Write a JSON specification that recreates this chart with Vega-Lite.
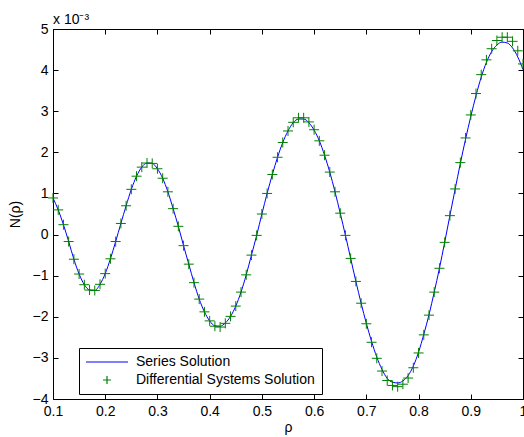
{
  "$schema": "https://vega.github.io/schema/vega-lite/v6.json",
  "width": 470,
  "height": 370,
  "autosize": {"type": "none"},
  "padding": {"left": 53, "top": 29, "right": 1, "bottom": 38},
  "background": "white",
  "title": {"text": "x 10⁻³", "anchor": "start", "frame": "group", "fontSize": 14, "fontWeight": "normal", "font": "Liberation Sans", "color": "black", "offset": -5},
  "datasets": {
    "markers": [
      {"rho": 0.10, "N": 0.89}, {"rho": 0.11, "N": 0.60}, {"rho": 0.12, "N": 0.24}, {"rho": 0.13, "N": -0.17}, {"rho": 0.14, "N": -0.60},
      {"rho": 0.15, "N": -0.96}, {"rho": 0.16, "N": -1.22}, {"rho": 0.17, "N": -1.35}, {"rho": 0.18, "N": -1.36}, {"rho": 0.19, "N": -1.21},
      {"rho": 0.20, "N": -0.95}, {"rho": 0.21, "N": -0.59}, {"rho": 0.22, "N": -0.17}, {"rho": 0.23, "N": 0.27}, {"rho": 0.24, "N": 0.70},
      {"rho": 0.25, "N": 1.10}, {"rho": 0.26, "N": 1.42}, {"rho": 0.27, "N": 1.64}, {"rho": 0.28, "N": 1.74}, {"rho": 0.29, "N": 1.73},
      {"rho": 0.30, "N": 1.60}, {"rho": 0.31, "N": 1.37}, {"rho": 0.32, "N": 1.04}, {"rho": 0.33, "N": 0.63}, {"rho": 0.34, "N": 0.20},
      {"rho": 0.35, "N": -0.27}, {"rho": 0.36, "N": -0.72}, {"rho": 0.37, "N": -1.17}, {"rho": 0.38, "N": -1.57}, {"rho": 0.39, "N": -1.88},
      {"rho": 0.40, "N": -2.10}, {"rho": 0.41, "N": -2.23}, {"rho": 0.42, "N": -2.25}, {"rho": 0.43, "N": -2.16}, {"rho": 0.44, "N": -1.99},
      {"rho": 0.45, "N": -1.74}, {"rho": 0.46, "N": -1.40}, {"rho": 0.47, "N": -0.98}, {"rho": 0.48, "N": -0.50}, {"rho": 0.49, "N": -0.02},
      {"rho": 0.50, "N": 0.50}, {"rho": 0.51, "N": 1.00}, {"rho": 0.52, "N": 1.46}, {"rho": 0.53, "N": 1.88}, {"rho": 0.54, "N": 2.24},
      {"rho": 0.55, "N": 2.52}, {"rho": 0.56, "N": 2.73}, {"rho": 0.57, "N": 2.84}, {"rho": 0.58, "N": 2.84}, {"rho": 0.59, "N": 2.74},
      {"rho": 0.60, "N": 2.55}, {"rho": 0.61, "N": 2.28}, {"rho": 0.62, "N": 1.93}, {"rho": 0.63, "N": 1.52}, {"rho": 0.64, "N": 1.04},
      {"rho": 0.65, "N": 0.52}, {"rho": 0.66, "N": -0.02}, {"rho": 0.67, "N": -0.58}, {"rho": 0.68, "N": -1.14}, {"rho": 0.69, "N": -1.67},
      {"rho": 0.70, "N": -2.17}, {"rho": 0.71, "N": -2.62}, {"rho": 0.72, "N": -3.01}, {"rho": 0.73, "N": -3.32}, {"rho": 0.74, "N": -3.55},
      {"rho": 0.75, "N": -3.67}, {"rho": 0.76, "N": -3.70}, {"rho": 0.77, "N": -3.64}, {"rho": 0.78, "N": -3.49}, {"rho": 0.79, "N": -3.24},
      {"rho": 0.80, "N": -2.88}, {"rho": 0.81, "N": -2.44}, {"rho": 0.82, "N": -1.96}, {"rho": 0.83, "N": -1.40}, {"rho": 0.84, "N": -0.82},
      {"rho": 0.85, "N": -0.19}, {"rho": 0.86, "N": 0.46}, {"rho": 0.87, "N": 1.11}, {"rho": 0.88, "N": 1.75}, {"rho": 0.89, "N": 2.35},
      {"rho": 0.90, "N": 2.91}, {"rho": 0.91, "N": 3.43}, {"rho": 0.92, "N": 3.89}, {"rho": 0.93, "N": 4.25}, {"rho": 0.94, "N": 4.52},
      {"rho": 0.95, "N": 4.72}, {"rho": 0.96, "N": 4.80}, {"rho": 0.97, "N": 4.80}, {"rho": 0.98, "N": 4.70}, {"rho": 0.99, "N": 4.47},
      {"rho": 1.00, "N": 4.15}
    ],
    "series": [
      {"rho": 0.10, "N": 0.89}, {"rho": 0.11, "N": 0.60}, {"rho": 0.12, "N": 0.24}, {"rho": 0.13, "N": -0.17}, {"rho": 0.14, "N": -0.60},
      {"rho": 0.15, "N": -0.96}, {"rho": 0.16, "N": -1.22}, {"rho": 0.17, "N": -1.35}, {"rho": 0.18, "N": -1.36}, {"rho": 0.19, "N": -1.21},
      {"rho": 0.20, "N": -0.95}, {"rho": 0.21, "N": -0.59}, {"rho": 0.22, "N": -0.17}, {"rho": 0.23, "N": 0.27}, {"rho": 0.24, "N": 0.70},
      {"rho": 0.25, "N": 1.10}, {"rho": 0.26, "N": 1.42}, {"rho": 0.27, "N": 1.64}, {"rho": 0.28, "N": 1.74}, {"rho": 0.29, "N": 1.73},
      {"rho": 0.30, "N": 1.60}, {"rho": 0.31, "N": 1.37}, {"rho": 0.32, "N": 1.04}, {"rho": 0.33, "N": 0.63}, {"rho": 0.34, "N": 0.20},
      {"rho": 0.35, "N": -0.27}, {"rho": 0.36, "N": -0.72}, {"rho": 0.37, "N": -1.17}, {"rho": 0.38, "N": -1.57}, {"rho": 0.39, "N": -1.88},
      {"rho": 0.40, "N": -2.10}, {"rho": 0.41, "N": -2.22}, {"rho": 0.42, "N": -2.23}, {"rho": 0.43, "N": -2.15}, {"rho": 0.44, "N": -1.99},
      {"rho": 0.45, "N": -1.74}, {"rho": 0.46, "N": -1.40}, {"rho": 0.47, "N": -0.98}, {"rho": 0.48, "N": -0.50}, {"rho": 0.49, "N": -0.02},
      {"rho": 0.50, "N": 0.50}, {"rho": 0.51, "N": 1.00}, {"rho": 0.52, "N": 1.46}, {"rho": 0.53, "N": 1.88}, {"rho": 0.54, "N": 2.24},
      {"rho": 0.55, "N": 2.52}, {"rho": 0.56, "N": 2.72}, {"rho": 0.57, "N": 2.81}, {"rho": 0.58, "N": 2.81}, {"rho": 0.59, "N": 2.72},
      {"rho": 0.60, "N": 2.54}, {"rho": 0.61, "N": 2.28}, {"rho": 0.62, "N": 1.93}, {"rho": 0.63, "N": 1.52}, {"rho": 0.64, "N": 1.04},
      {"rho": 0.65, "N": 0.52}, {"rho": 0.66, "N": -0.02}, {"rho": 0.67, "N": -0.58}, {"rho": 0.68, "N": -1.14}, {"rho": 0.69, "N": -1.67},
      {"rho": 0.70, "N": -2.16}, {"rho": 0.71, "N": -2.60}, {"rho": 0.72, "N": -2.98}, {"rho": 0.73, "N": -3.28}, {"rho": 0.74, "N": -3.50},
      {"rho": 0.75, "N": -3.59}, {"rho": 0.76, "N": -3.61}, {"rho": 0.77, "N": -3.56}, {"rho": 0.78, "N": -3.43}, {"rho": 0.79, "N": -3.20},
      {"rho": 0.80, "N": -2.86}, {"rho": 0.81, "N": -2.43}, {"rho": 0.82, "N": -1.95}, {"rho": 0.83, "N": -1.40}, {"rho": 0.84, "N": -0.82},
      {"rho": 0.85, "N": -0.19}, {"rho": 0.86, "N": 0.46}, {"rho": 0.87, "N": 1.10}, {"rho": 0.88, "N": 1.73}, {"rho": 0.89, "N": 2.32},
      {"rho": 0.90, "N": 2.87}, {"rho": 0.91, "N": 3.38}, {"rho": 0.92, "N": 3.83}, {"rho": 0.93, "N": 4.19}, {"rho": 0.94, "N": 4.45},
      {"rho": 0.95, "N": 4.61}, {"rho": 0.96, "N": 4.68}, {"rho": 0.97, "N": 4.66}, {"rho": 0.98, "N": 4.54}, {"rho": 0.99, "N": 4.32},
      {"rho": 1.00, "N": 4.01}
    ]
  },
  "layer": [
    {
      "data": {"name": "series"},
      "mark": {"type": "line", "color": "#0000ff", "strokeWidth": 1, "interpolate": "monotone", "clip": true},
      "encoding": {
        "x": {"field": "rho", "type": "quantitative", "scale": {"domain": [0.1, 1], "nice": false, "zero": false},
          "axis": {"orient": "bottom", "title": "ρ", "values": [0.1, 0.2, 0.3, 0.4, 0.5, 0.6, 0.7, 0.8, 0.9, 1], "labelExpr": "format(datum.value, '.1~f')", "titlePadding": 2}},
        "y": {"field": "N", "type": "quantitative", "scale": {"domain": [-4, 5], "nice": false, "zero": false},
          "axis": {"orient": "left", "title": "N(ρ)", "values": [-4, -3, -2, -1, 0, 1, 2, 3, 4, 5], "format": "d", "titlePadding": 10}}
      }
    },
    {
      "data": {"name": "markers"},
      "transform": [{"calculate": "'Differential Systems Solution'", "as": "series"}],
      "mark": {"type": "point", "filled": false, "strokeWidth": 1, "size": 156, "opacity": 1, "clip": false},
      "encoding": {
        "x": {"field": "rho", "type": "quantitative",
          "axis": {"orient": "top", "title": null, "labels": false, "values": [0.1, 0.2, 0.3, 0.4, 0.5, 0.6, 0.7, 0.8, 0.9, 1]}},
        "y": {"field": "N", "type": "quantitative",
          "axis": {"orient": "right", "title": null, "labels": false, "values": [-4, -3, -2, -1, 0, 1, 2, 3, 4, 5]}},
        "color": {"field": "series", "type": "nominal",
          "scale": {"domain": ["Series Solution", "Differential Systems Solution"], "range": ["#0000ff", "#008000"]},
          "legend": {"title": null, "orient": "none", "legendX": 26, "legendY": 319}},
        "shape": {"field": "series", "type": "nominal",
          "scale": {"domain": ["Series Solution", "Differential Systems Solution"], "range": ["M-4.2,0H4.2", "M-0.8,0H0.8M0,-0.8V0.8"]},
          "legend": {"title": null, "orient": "none", "legendX": 26, "legendY": 319}}
      }
    }
  ],
  "resolve": {"axis": {"x": "independent", "y": "independent"}},
  "config": {
    "view": {"stroke": "black", "strokeWidth": 1},
    "font": "Liberation Sans",
    "axis": {
      "grid": false,
      "domain": false,
      "ticks": true,
      "offset": -5,
      "tickColor": "black",
      "tickWidth": 1,
      "tickSize": 5,
      "labelColor": "black",
      "labelFont": "Liberation Sans",
      "labelFontSize": 14,
      "labelPadding": 5,
      "labelFlush": false,
      "labelOverlap": false,
      "labelBound": false,
      "titleColor": "black",
      "titleFont": "Liberation Sans",
      "titleFontSize": 14,
      "titleFontWeight": "normal"
    },
    "legend": {
      "strokeColor": "black",
      "fillColor": "white",
      "padding": 7,
      "symbolSize": 100,
      "symbolStrokeWidth": 1.2,
      "symbolOffset": 14,
      "labelOffset": 22,
      "labelLimit": 400,
      "labelFont": "Liberation Sans",
      "labelFontSize": 14,
      "labelColor": "black",
      "rowPadding": 4
    }
  }
}
